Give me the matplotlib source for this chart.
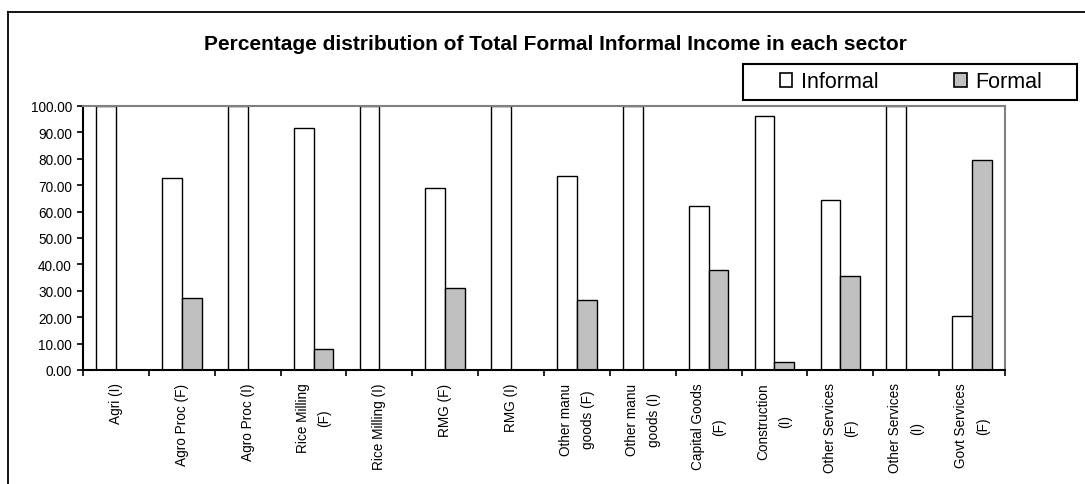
import numpy as np
import matplotlib
matplotlib.use("Agg")
import matplotlib.pyplot as plt
from matplotlib.patches import Patch, Rectangle
from matplotlib.lines import Line2D

plt.rcParams['font.family'] = ['Liberation Sans', 'DejaVu Sans']

# data
sectors = ["Agri (I)", "Agro Proc (F)", "Agro Proc (I)", "Rice Milling\n(F)",
           "Rice Milling (I)", "RMG (F)", "RMG (I)", "Other manu\ngoods (F)",
           "Other manu\ngoods (I)", "Capital Goods\n(F)", "Construction\n(I)",
           "Other Services\n(F)", "Other Services\n(I)", "Govt Services\n(F)"]
informal = [100.0, 72.7, 100.0, 91.8, 100.0, 69.0, 100.0, 73.5, 100.0, 62.2, 96.4, 64.4, 100.0, 20.5]
formal = [0.0, 27.3, 0.0, 7.8, 0.0, 31.0, 0.0, 26.5, 0.0, 37.8, 3.0, 35.6, 0.0, 79.5]
yticks = np.arange(0, 101, 10)

W, H = 1085, 485
fig = plt.figure(figsize=(W / 100, H / 100), dpi=100)
ax = fig.add_axes([83 / W, 1 - 371 / H, (1005 - 83) / W, (371 - 107) / H])

x = np.arange(len(sectors))
bw = 0.3
ax.bar(x - bw / 2, informal, bw, color='white', edgecolor='black', linewidth=1.0, label='Informal')
ax.bar(x + bw / 2, formal, bw, color='#C0C0C0', edgecolor='black', linewidth=1.0, label='Formal')

ax.set_xlim(-0.5, len(sectors) - 0.5)
ax.set_ylim(0, 100)
ax.set_yticks(yticks)
ax.set_yticklabels([f"{v:.2f}" for v in yticks], fontsize=9.8)
ax.tick_params(axis='y', length=4, width=1.2, pad=4, direction='out')

ax.set_xticks(x)
ax.set_xticklabels(sectors, rotation=90, fontsize=9.8, multialignment='center', linespacing=1.7)
ax.tick_params(axis='x', which='major', length=0, pad=9)
ax.set_xticks(np.arange(len(sectors) + 1) - 0.5, minor=True)
ax.tick_params(axis='x', which='minor', length=4, width=1.2, direction='out')

for s in ['left', 'bottom']:
    ax.spines[s].set_color('black')
    ax.spines[s].set_linewidth(1.5)
for s in ['top', 'right']:
    ax.spines[s].set_color('#808080')
    ax.spines[s].set_linewidth(1.5)

# title
fig.text(555 / W, 1 - 44 / H, "Percentage distribution of Total Formal Informal Income in each sector",
         ha='center', va='center', fontsize=15, fontweight='bold')

# legend box
fig.patches.append(Rectangle((743 / W, 1 - 100.5 / H), (1077 - 743) / W, 35.5 / H,
                             transform=fig.transFigure, facecolor='white', edgecolor='black',
                             linewidth=1.5))
handles = [Patch(facecolor='white', edgecolor='black', linewidth=1.2),
           Patch(facecolor='#C0C0C0', edgecolor='black', linewidth=1.2)]
fig.legend(handles, ['Informal', 'Formal'], loc='center', bbox_to_anchor=(911 / W, 1 - 83 / H),
           ncol=2, frameon=False, fontsize=15.5, handlelength=0.6, handleheight=0.6,
           handletextpad=0.4, columnspacing=3.5)

# outer chart frame (right/bottom cut off in the reference)
fig.add_artist(Line2D([8 / W, 8 / W], [0, 1 - 13 / H], transform=fig.transFigure, color='black', linewidth=1.3))
fig.add_artist(Line2D([8 / W, 1], [1 - 13 / H, 1 - 13 / H], transform=fig.transFigure, color='black', linewidth=1.3))

fig.savefig("out.png", dpi=100)
